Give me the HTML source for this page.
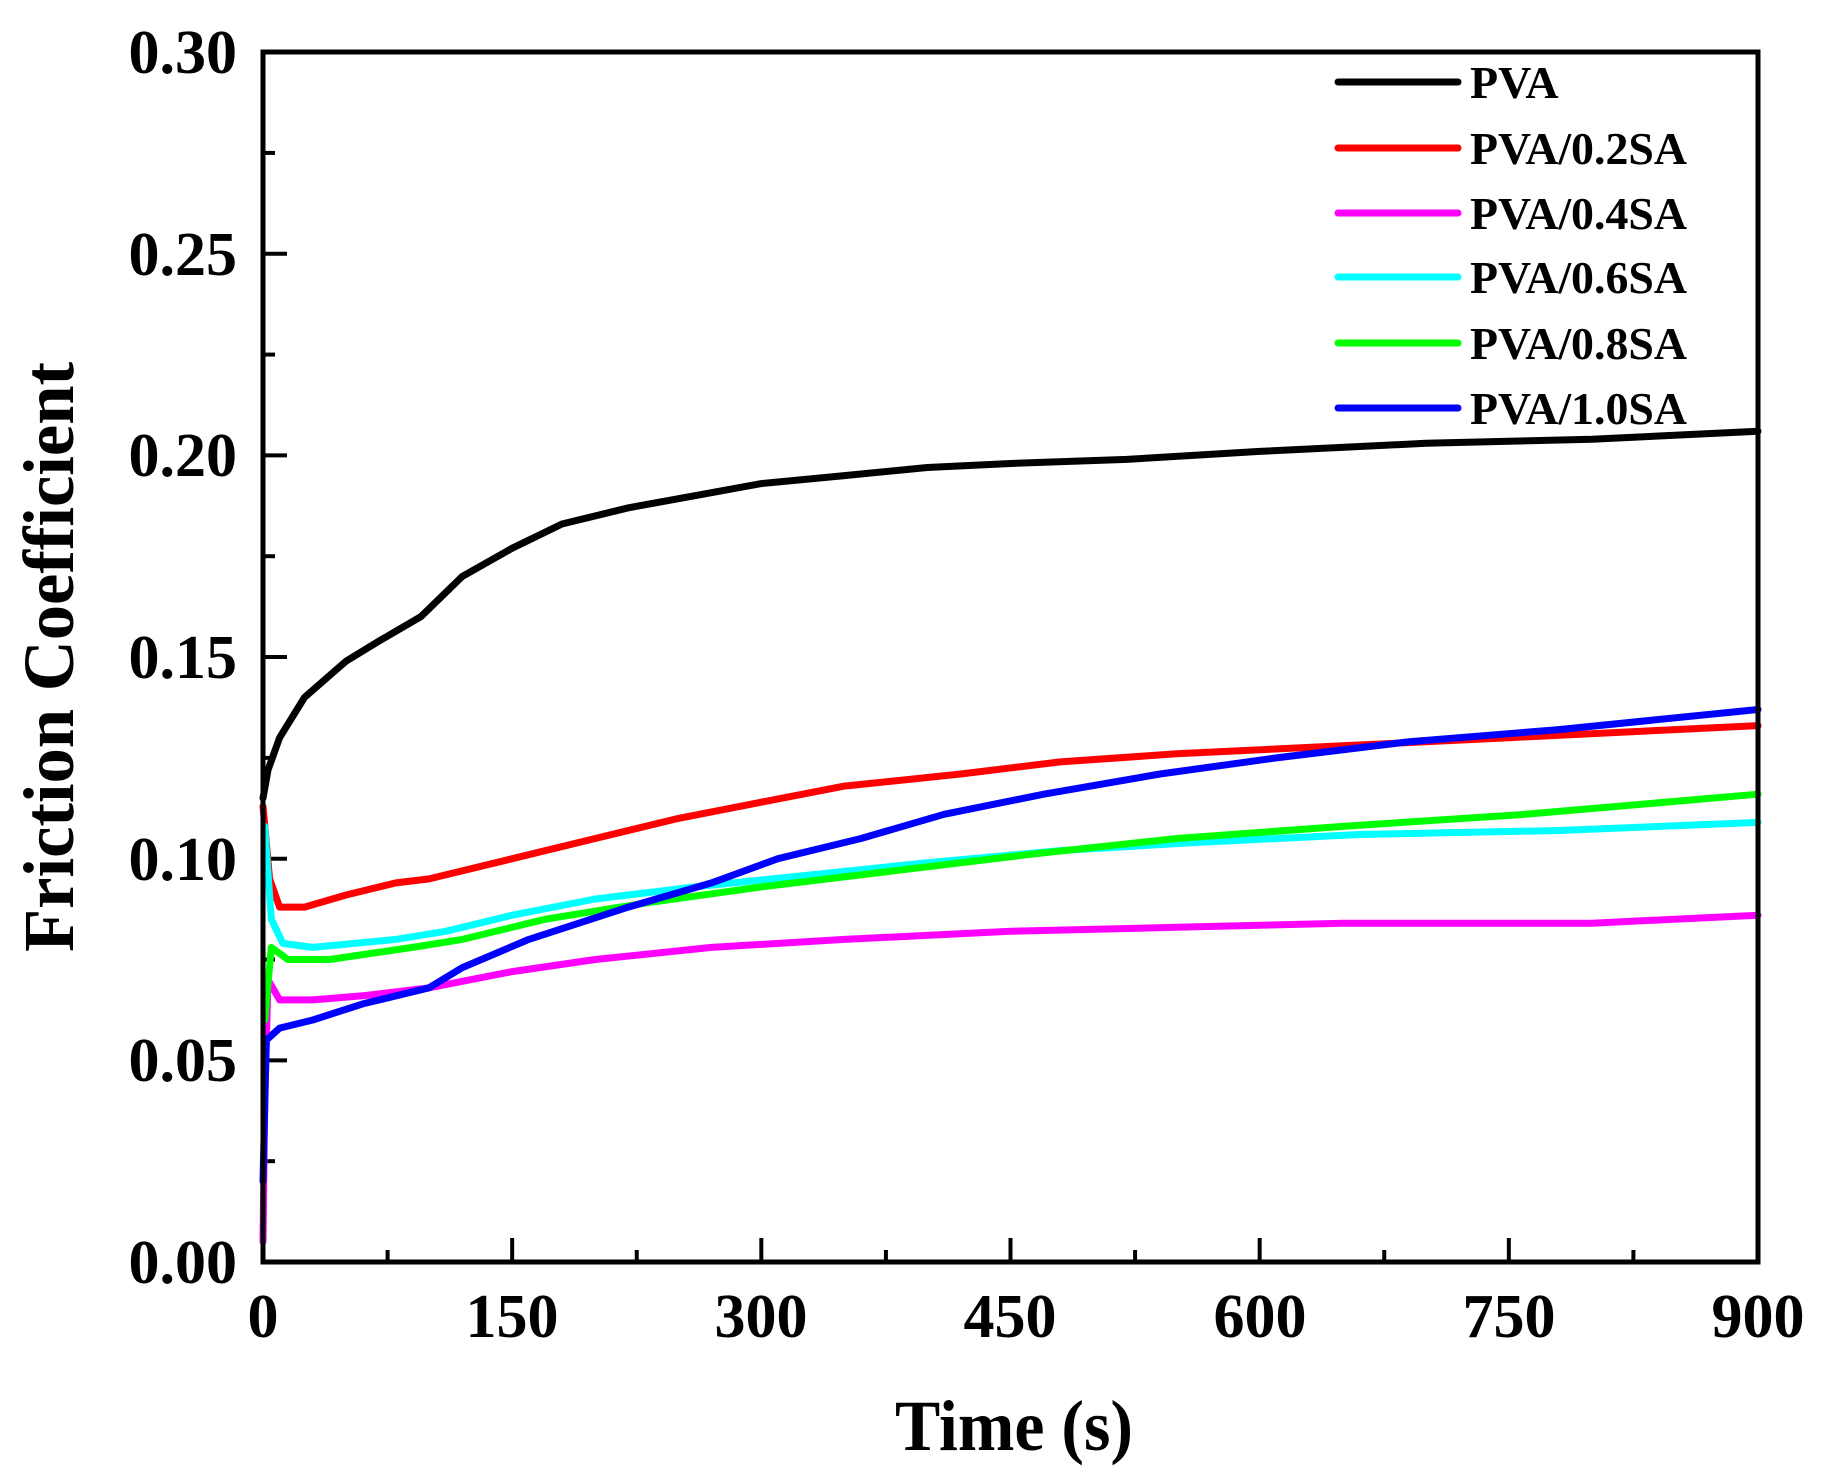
<!DOCTYPE html>
<html><head><meta charset="utf-8"><style>
html,body{margin:0;padding:0;background:#fff;}
svg{display:block;font-family:"Liberation Serif",serif;font-weight:bold;}
</style></head><body>
<svg id="s" width="1833" height="1479" viewBox="0 0 1833 1479" xmlns="http://www.w3.org/2000/svg">
<rect width="1833" height="1479" fill="#fff"/>
<g id="ticks" stroke="#000" stroke-width="4"></g>
<g id="series" fill="none" stroke-width="7" stroke-linejoin="round" stroke-linecap="round"></g>
<rect x="263" y="52" width="1495" height="1210" fill="none" stroke="#000" stroke-width="5"/>
<g font-size="62" text-anchor="end">
<text x="237" y="1283">0.00</text>
<text x="237" y="1081">0.05</text>
<text x="237" y="880">0.10</text>
<text x="237" y="678">0.15</text>
<text x="237" y="476">0.20</text>
<text x="237" y="275">0.25</text>
<text x="237" y="73">0.30</text>
</g>
<g font-size="62" text-anchor="middle">
<text x="263" y="1337">0</text>
<text x="512" y="1337">150</text>
<text x="761" y="1337">300</text>
<text x="1010" y="1337">450</text>
<text x="1260" y="1337">600</text>
<text x="1509" y="1337">750</text>
<text x="1758" y="1337">900</text>
</g>
<text x="895" y="1450" font-size="72" textLength="238" lengthAdjust="spacingAndGlyphs">Time (s)</text>
<text transform="translate(73,952) rotate(-90)" font-size="72" textLength="590" lengthAdjust="spacingAndGlyphs">Friction  Coefficient</text>
<g stroke-width="7" stroke-linecap="round">
<line x1="1338" y1="82" x2="1458" y2="82" stroke="#000"/>
<line x1="1338" y1="148" x2="1458" y2="148" stroke="#f00"/>
<line x1="1338" y1="213" x2="1458" y2="213" stroke="#f0f"/>
<line x1="1338" y1="277" x2="1458" y2="277" stroke="#0ff"/>
<line x1="1338" y1="343" x2="1458" y2="343" stroke="#0f0"/>
<line x1="1338" y1="408" x2="1458" y2="408" stroke="#00f"/>
</g>
<g font-size="46">
<text x="1470" y="98">PVA</text>
<text x="1470" y="164" textLength="217" lengthAdjust="spacingAndGlyphs">PVA/0.2SA</text>
<text x="1470" y="229" textLength="217" lengthAdjust="spacingAndGlyphs">PVA/0.4SA</text>
<text x="1470" y="293" textLength="217" lengthAdjust="spacingAndGlyphs">PVA/0.6SA</text>
<text x="1470" y="359" textLength="217" lengthAdjust="spacingAndGlyphs">PVA/0.8SA</text>
<text x="1470" y="424" textLength="217" lengthAdjust="spacingAndGlyphs">PVA/1.0SA</text>
</g>
<script>
(function(){
var X=function(t){return 263+t*1495/900;},Y=function(v){return 1262-v*4033;};
var NS="http://www.w3.org/2000/svg";
var tk=document.getElementById('ticks');
function ln(x1,y1,x2,y2){var l=document.createElementNS(NS,'line');l.setAttribute('x1',x1);l.setAttribute('y1',y1);l.setAttribute('x2',x2);l.setAttribute('y2',y2);tk.appendChild(l);}
for(var t=75;t<900;t+=75){var maj=(t%150==0);ln(X(t),1262,X(t),1262-(maj?24:12));}
for(var i=1;i<12;i++){var v=i*0.025;var maj=(i%2==0);ln(263,Y(v),263+(maj?24:12),Y(v));}
var D={
"#000":[[0,.115],[3,.122],[10,.13],[25,.14],[50,.149],[70,.154],[95,.16],[100,.162],[120,.17],[150,.177],[180,.183],[220,.187],[260,.19],[300,.193],[350,.195],[400,.197],[450,.198],[520,.199],[600,.201],[700,.203],[800,.204],[900,.206]],
"#f00":[[0,.113],[4,.095],[10,.088],[25,.088],[50,.091],[80,.094],[100,.095],[150,.1],[200,.105],[250,.11],[300,.114],[350,.118],[420,.121],[480,.124],[550,.126],[650,.128],[750,.13],[850,.132],[900,.133]],
"#f0f":[[0,.005],[1,.04],[3,.07],[10,.065],[30,.065],[60,.066],[100,.068],[150,.072],[200,.075],[270,.078],[350,.08],[450,.082],[550,.083],[650,.084],[800,.084],[900,.086]],
"#0ff":[[1,.108],[5,.085],[12,.079],[30,.078],[80,.08],[110,.082],[150,.086],[200,.09],[260,.093],[330,.096],[400,.099],[480,.102],[560,.104],[660,.106],[780,.107],[900,.109]],
"#0f0":[[1,.06],[5,.078],[15,.075],[40,.075],[90,.078],[120,.08],[170,.085],[230,.089],[300,.093],[380,.097],[460,.101],[550,.105],[650,.108],[760,.111],[900,.116]],
"#00f":[[0,.02],[2,.055],[10,.058],[30,.06],[60,.064],[100,.068],[120,.073],[160,.08],[220,.088],[270,.094],[310,.1],[360,.105],[410,.111],[470,.116],[540,.121],[610,.125],[690,.129],[780,.132],[900,.137]]};
var g=document.getElementById('series');
for(var c in D){var p=D[c].map(function(a,j){return (j?'L':'M')+X(a[0]).toFixed(1)+' '+Y(a[1]).toFixed(1);}).join(' ');
var e=document.createElementNS(NS,'path');e.setAttribute('d',p);e.setAttribute('stroke',c);g.appendChild(e);}
})();
</script>
</svg>
</body></html>
